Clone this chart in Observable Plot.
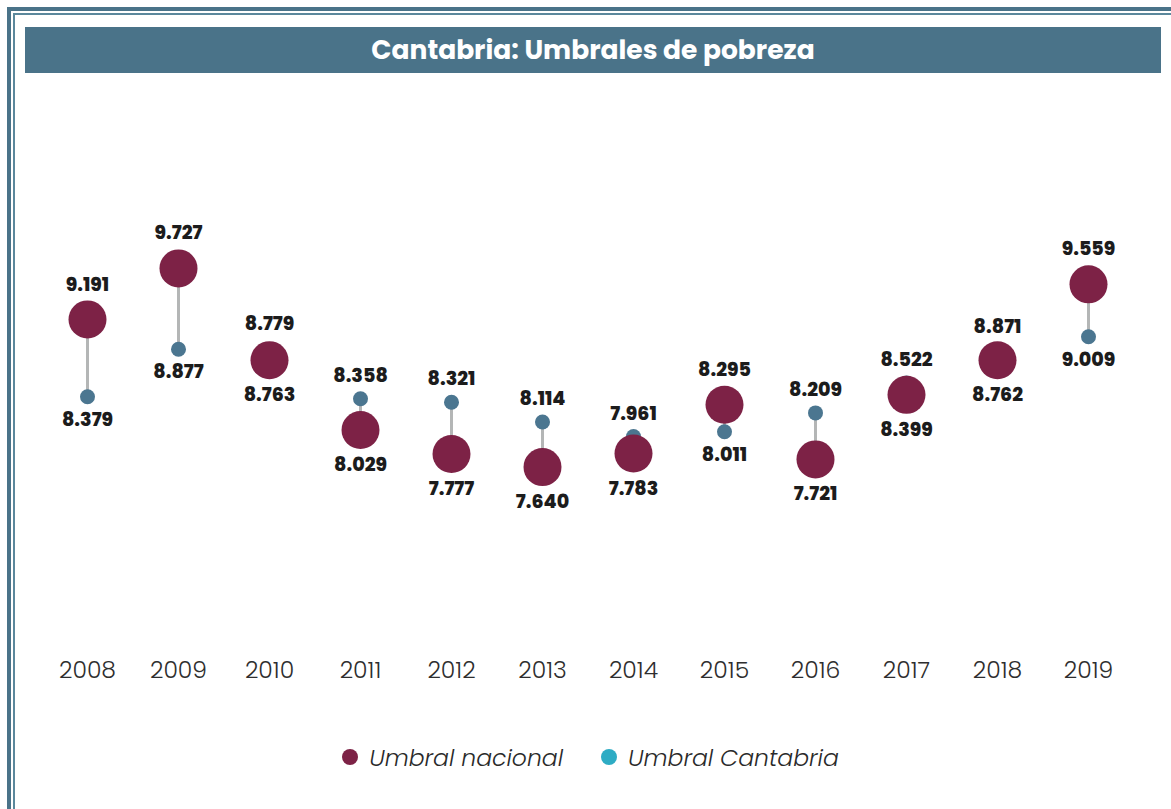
<!DOCTYPE html>
<html>
<head>
<meta charset="utf-8">
<script src="https://cdn.jsdelivr.net/npm/d3@7"></script>
<script src="https://cdn.jsdelivr.net/npm/@observablehq/plot@0.6"></script>
<style>
  html, body { margin: 0; padding: 0; background: #fff; }
  body { width: 1171px; height: 809px; position: relative; overflow: hidden; font-family: Poppins, Lato, "Noto Sans", sans-serif; }
  .fr { position: absolute; background: #4a7389; }
  #title { position: absolute; left: 25px; top: 27px; width: 1136px; height: 46px; background: #4a7389;
           color: #fff; font-family: Poppins, Roboto, sans-serif; font-weight: 700; font-size: 26.5px;
           display: flex; align-items: center; justify-content: center; }
  #chart { position: absolute; left: 0; top: 80px; }
  #legend { position: absolute; left: 0; width: 1171px; top: 740px; height: 34px; display: flex;
            justify-content: center; align-items: center; padding-left: 10px; box-sizing: border-box; }
  .item { display: flex; align-items: center; margin: 0 19px; }
  .sw { width: 16px; height: 16px; border-radius: 50%; margin-right: 11px; }
  .lab { font-family: Poppins, Lato, sans-serif; font-style: italic; font-weight: 300; font-size: 23.5px; color: #2a2a2a; }
</style>
</head>
<body>
<div class="fr" style="left:7px; top:7px; right:0; height:3.5px;"></div>
<div class="fr" style="left:13px; top:13px; right:0; height:1.7px; background:#5b889c;"></div>
<div class="fr" style="left:7px; top:7px; bottom:0; width:4px;"></div>
<div class="fr" style="left:13px; top:13px; bottom:0; width:1.8px; background:#5b889c;"></div>
<div id="title">Cantabria: Umbrales de pobreza</div>
<div id="chart"></div>
<div id="legend"></div>
<script>
// Data (euros)
const years = [2008, 2009, 2010, 2011, 2012, 2013, 2014, 2015, 2016, 2017, 2018, 2019];
const nacional = [9191, 9727, 8763, 8029, 7777, 7640, 7783, 8295, 7721, 8399, 8762, 9559];
const cantabria = [8379, 8877, 8779, 8358, 8321, 8114, 7961, 8011, 8209, 8522, 8871, 9009];
const seriesNames = ["Umbral nacional", "Umbral Cantabria"];
const seriesColors = ["#7d2246", "#2eacc4"];

const rows = years.map((y, i) => ({year: String(y), nac: nacional[i], cant: cantabria[i]}));
const fmt = d3.formatLocale({decimal: ",", thousands: ".", grouping: [3], currency: ["", " €"]}).format(",d");
const eps = 50;
const hi = r => Math.max(r.nac, r.cant);
const lo = r => Math.min(r.nac, r.cant);

const labelStyle = {fontSize: 19, fontWeight: 800, fill: "#1c1c1c", fontFamily: "Poppins, Roboto, sans-serif"};

const chart = Plot.plot({
  width: 1171,
  height: 620,
  marginLeft: 83,
  marginRight: 80,
  marginTop: 20,
  marginBottom: 42,
  x: {type: "point", domain: years.map(String), padding: 0},
  y: {domain: [5630, 11490], axis: null},
  style: {fontFamily: "Poppins, Lato, sans-serif", background: "transparent"},
  marks: [
    Plot.link(rows, {x1: "year", x2: "year", y1: "cant", y2: "nac", stroke: "#b4b6b6", strokeWidth: 3}),
    Plot.dot(rows, {x: "year", y: "cant", r: 7.5, fill: "#4b7690"}),
    Plot.dot(rows, {x: "year", y: "nac", r: 19, fill: "#7d2246"}),
    // labels above the upper dot
    Plot.text(rows.filter(r => r.nac >= r.cant - eps), {x: "year", y: hi, text: r => fmt(hi(r)), dy: -35, ...labelStyle}),
    Plot.text(rows.filter(r => r.nac < r.cant - eps), {x: "year", y: "cant", text: r => fmt(r.cant), dy: -23, ...labelStyle}),
    // labels below the lower dot
    Plot.text(rows.filter(r => r.nac <= r.cant + eps), {x: "year", y: lo, text: r => fmt(lo(r)), dy: 35, ...labelStyle}),
    Plot.text(rows.filter(r => r.nac > r.cant + eps), {x: "year", y: "cant", text: r => fmt(r.cant), dy: 23, ...labelStyle}),
    Plot.axisX({tickSize: 0, tickPadding: 3, fontSize: 23.5, fontWeight: 300, fill: "#2e2e2e", label: null})
  ]
});
document.getElementById("chart").appendChild(chart);

const legend = document.getElementById("legend");
seriesNames.forEach((name, i) => {
  const item = document.createElement("div");
  item.className = "item";
  item.innerHTML = `<span class="sw" style="background:${seriesColors[i]}"></span><span class="lab">${name}</span>`;
  legend.appendChild(item);
});
</script>
</body>
</html>
